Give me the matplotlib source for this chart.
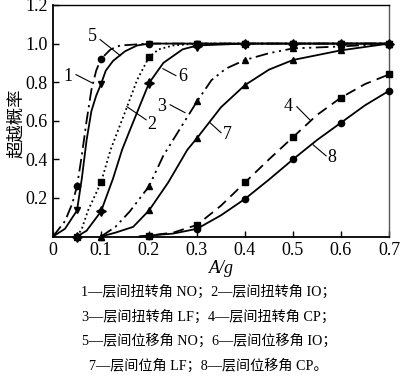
import matplotlib
matplotlib.use("Agg")
import matplotlib.pyplot as plt

plt.rcParams["font.family"] = ["Liberation Serif", "Noto Sans CJK SC"]

# main sample points (markers)
mark_x = [0.05, 0.1, 0.2, 0.3, 0.4, 0.5, 0.6, 0.7]

# curve 1: torsion angle NO
x1 = [0.0, 0.025, 0.04, 0.05, 0.06, 0.07, 0.08, 0.09, 0.1, 0.12, 0.14, 0.2, 0.3, 0.4, 0.5, 0.6, 0.7]
y1 = [0.0, 0.08, 0.17, 0.26, 0.42, 0.6, 0.76, 0.86, 0.92, 0.97, 0.99, 1.0, 1.0, 1.0, 1.0, 1.0, 1.0]
# curve 2: torsion angle IO
x2 = [0.05, 0.06, 0.073, 0.1, 0.12, 0.154, 0.175, 0.2, 0.22, 0.25, 0.3, 0.4, 0.5, 0.6, 0.7]
y2 = [0.0, 0.04, 0.135, 0.28, 0.45, 0.67, 0.81, 0.93, 0.97, 0.99, 1.0, 1.0, 1.0, 1.0, 1.0]
# curve 3: torsion angle LF
x3 = [0.1, 0.13, 0.16, 0.2, 0.23, 0.26, 0.3, 0.33, 0.36, 0.4, 0.45, 0.5, 0.6, 0.7]
y3 = [0.0, 0.05, 0.13, 0.26, 0.42, 0.54, 0.70, 0.81, 0.87, 0.915, 0.95, 0.975, 0.985, 1.0]
# curve 4: torsion angle CP
x4 = [0.18, 0.2, 0.25, 0.3, 0.35, 0.4, 0.45, 0.5, 0.55, 0.6, 0.65, 0.7]
y4 = [0.0, 0.005, 0.02, 0.06, 0.16, 0.28, 0.40, 0.515, 0.63, 0.72, 0.79, 0.84]
# curve 5: drift angle NO
x5 = [0.0, 0.025, 0.05, 0.06, 0.07, 0.08, 0.09, 0.1, 0.11, 0.125, 0.15, 0.175, 0.2, 0.3, 0.4, 0.5, 0.6, 0.7]
y5 = [0.0, 0.04, 0.135, 0.3, 0.5, 0.65, 0.73, 0.79, 0.86, 0.91, 0.96, 0.99, 1.0, 1.0, 1.0, 1.0, 1.0, 1.0]
# curve 6: drift angle IO
x6 = [0.05, 0.07, 0.1, 0.125, 0.144, 0.16, 0.2, 0.23, 0.27, 0.3, 0.4, 0.5, 0.6, 0.7]
y6 = [0.0, 0.03, 0.13, 0.3, 0.45, 0.55, 0.795, 0.9, 0.97, 0.99, 1.0, 1.0, 1.0, 1.0]
# curve 7: drift angle LF
x7 = [0.1, 0.13, 0.167, 0.2, 0.24, 0.28, 0.3, 0.35, 0.4, 0.45, 0.5, 0.55, 0.6, 0.7]
y7 = [0.0, 0.02, 0.05, 0.135, 0.28, 0.45, 0.51, 0.67, 0.785, 0.865, 0.915, 0.94, 0.965, 1.0]
# curve 8: drift angle CP
x8 = [0.18, 0.2, 0.25, 0.3, 0.35, 0.4, 0.45, 0.5, 0.55, 0.6, 0.65, 0.7]
y8 = [0.0, 0.005, 0.015, 0.04, 0.11, 0.195, 0.295, 0.40, 0.50, 0.59, 0.68, 0.755]

curves = [
    (x1, y1, (0, (7, 2.5, 1.2, 2.5)), "o", 4.5),
    (x2, y2, (0, (1, 1.6)), "s", 4.5),
    (x3, y3, (0, (7, 2.5, 1.2, 2.5, 1.2, 2.5)), "^", 5),
    (x4, y4, (0, (6, 3.5)), "s", 4.5),
    (x5, y5, "-", "v", 4.5),
    (x6, y6, "-", (4, 1, 0), 7),
    (x7, y7, "-", "^", 5),
    (x8, y8, "-", "o", 4.5),
]

xticks = [0, 0.1, 0.2, 0.3, 0.4, 0.5, 0.6, 0.7]
xticklabels = ["0", "0.1", "0.2", "0.3", "0.4", "0.5", "0.6", "0.7"]
yticks = [0.2, 0.4, 0.6, 0.8, 1.0, 1.2]
yticklabels = ["0.2", "0.4", "0.6", "0.8", "1.0", "1.2"]

# curve labels: (text, text pos, leader start, leader end)
labels = [
    ("1", (0.031, 0.828), (0.048, 0.839), (0.081, 0.797)),
    ("5", (0.083, 1.036), (0.098, 1.021), (0.140, 0.938)),
    ("6", (0.271, 0.828), (0.229, 0.870), (0.256, 0.834)),
    ("2", (0.206, 0.579), (0.154, 0.673), (0.194, 0.605)),
    ("3", (0.227, 0.673), (0.244, 0.683), (0.275, 0.642)),
    ("7", (0.3625, 0.527), (0.327, 0.590), (0.350, 0.538)),
    ("4", (0.490, 0.673), (0.508, 0.673), (0.535, 0.605)),
    ("8", (0.581, 0.408), (0.542, 0.475), (0.569, 0.418)),
]

caption = [
    "1—层间扭转角 NO；2—层间扭转角 IO；",
    "3—层间扭转角 LF；4—层间扭转角 CP；",
    "5—层间位移角 NO；6—层间位移角 IO；",
    "7—层间位角 LF；8—层间位移角 CP。",
]

fig = plt.figure(figsize=(4.0, 3.78), dpi=100)
ax = fig.add_axes([0.1325, 0.3743, 0.84, 0.6125])

for xs, ys, ls, mk, ms in curves:
    idx = [i for i, v in enumerate(xs) if any(abs(v - m) < 1e-9 for m in mark_x)]
    ax.plot(xs, ys, color="black", linestyle=ls, linewidth=1.3,
            marker=mk, markersize=ms, markevery=idx, markerfacecolor="black",
            markeredgecolor="black", clip_on=False, zorder=3)

for txt, tpos, p0, p1 in labels:
    ax.plot([p0[0], p1[0]], [p0[1], p1[1]], color="black", linewidth=0.8)
    ax.text(tpos[0], tpos[1], txt, fontsize=13, ha="center", va="center")

ax.set_xlim(0, 0.7)
ax.set_ylim(0, 1.2)
ax.set_xticks(xticks)
ax.set_xticklabels(xticklabels)
ax.set_yticks(yticks)
ax.set_yticklabels(yticklabels)
ax.tick_params(direction="in", length=4, width=1, labelsize=13, pad=4)
for s in ax.spines.values():
    s.set_linewidth(1.0)
ax.spines["left"].set_linewidth(1.3)
ax.spines["bottom"].set_linewidth(1.3)
ax.spines["right"].set_color("#555555")

ax.set_xlabel("A/g", fontsize=13, fontstyle="italic", labelpad=1)
ax.set_ylabel("超越概率", fontsize=12.5, family=["Noto Sans CJK SC"],
              va="center")
ax.yaxis.set_label_coords(-0.11, 0.49)

for i, line in enumerate(caption):
    fig.text(0.522, 1 - (292 + 24.5 * i) / 378, line, fontsize=10.2,
             ha="center", va="center")

fig.savefig("out.png", dpi=100)
